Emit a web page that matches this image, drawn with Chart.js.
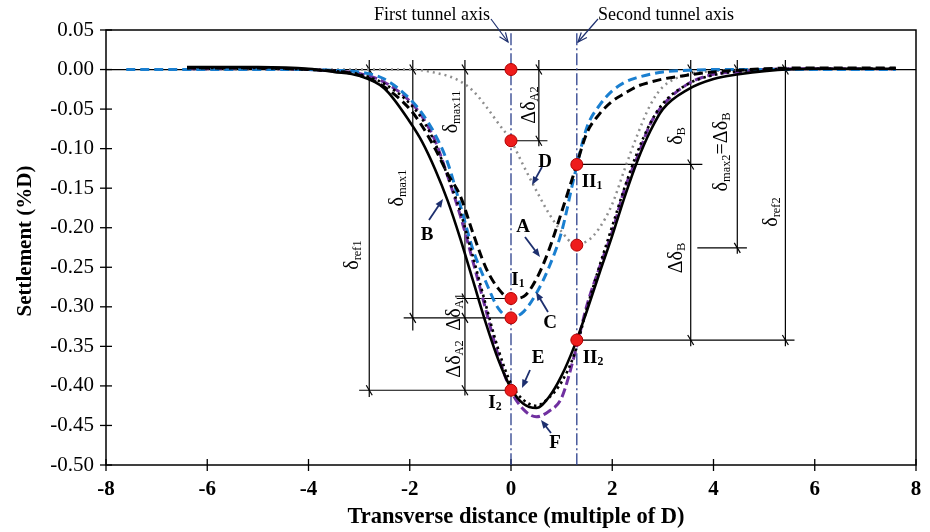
<!DOCTYPE html>
<html>
<head>
<meta charset="utf-8">
<script src="https://cdn.jsdelivr.net/npm/chart.js@4.4.1/dist/chart.umd.min.js"></script>
<style>
    html, body { margin: 0; padding: 0; background: #fff; }
</style>
</head>
<body>
<canvas id="settlementChart" width="930" height="532"></canvas>
<script>
// transverse positions (multiple of D) shared by all curves
const xGrid = [-7.6, -6.4, -5, -4, -3.5, -3, -2.5, -2, -1.75, -1.5, -1.25, -1, -0.75, -0.5, -0.25, 0,
    0.25, 0.5, 0.75, 1, 1.25, 1.5, 1.75, 2, 2.25, 2.5, 2.75, 3, 3.5, 4, 4.5, 5, 6, 7.6];

// settlement (%D) of each curve
const curveA = [null, 0.002, 0.002, 0, -0.002, -0.007, -0.022, -0.05, -0.072, -0.1, -0.132, -0.16, -0.207, -0.25, -0.277,
    -0.29, -0.287, -0.265, -0.228, -0.18, -0.13, -0.08, -0.056, -0.04, -0.03, -0.021, -0.016, -0.012, -0.007, -0.003, -0.001, 0.001, 0.002, 0.002];
const curveB = [null, 0.003, 0.003, 0.001, -0.003, -0.008, -0.024, -0.066, -0.092, -0.126, -0.166, -0.214, -0.267, -0.32, -0.367,
    -0.403, -0.423, -0.428, -0.414, -0.387, -0.35, -0.305, -0.257, -0.21, -0.16, -0.115, -0.078, -0.05, -0.025, -0.012, -0.006, -0.002, 0.001, 0.001];
const curveC = [0, 0, 0, 0, -0.001, -0.003, -0.012, -0.037, -0.056, -0.082, -0.118, -0.172, -0.228, -0.268, -0.302,
    -0.314, -0.306, -0.283, -0.25, -0.205, -0.135, -0.073, -0.045, -0.027, -0.016, -0.01, -0.006, -0.003, -0.001, 0, 0, 0, 0, 0];
const curveD = [null, 0, 0, 0, 0, 0, 0, 0, -0.001, -0.004, -0.008, -0.015, -0.027, -0.046, -0.068,
    -0.09, -0.122, -0.153, -0.182, -0.205, -0.22, -0.217, -0.2, -0.17, -0.125, -0.082, -0.045, -0.022, -0.006, -0.002, 0, 0, 0, 0];
const curveE = [null, 0.002, 0.002, 0, -0.002, -0.006, -0.018, -0.043, -0.063, -0.093, -0.135, -0.18, -0.237, -0.297, -0.354,
    -0.397, -0.418, -0.425, -0.415, -0.395, -0.36, -0.302, -0.248, -0.198, -0.148, -0.104, -0.068, -0.043, -0.018, -0.007, -0.002, 0, 0.001, 0.001];
const curveF = [null, 0.001, 0.001, 0, -0.002, -0.005, -0.016, -0.04, -0.06, -0.09, -0.135, -0.185, -0.243, -0.303, -0.362,
    -0.406, -0.43, -0.439, -0.432, -0.415, -0.362, -0.298, -0.25, -0.205, -0.15, -0.11, -0.069, -0.045, -0.018, -0.006, -0.003, 0, 0.001, 0.001];

// red marker points (I1, I2, II1, II2 ...)
const markerX = [0, 0, 0, 0, 0, 1.3, 1.3, 1.3];
const markerY = [0, -0.09, -0.2895, -0.314, -0.4055, -0.12, -0.222, -0.342];

// tunnel axes
const tunnelAxisX = [0, 1.3];

// dimension lines: [x, yTop, yBottom] and [y, xLeft, xRight]
const dimVertical = [
    [-2.8, 0.012, -0.414],
    [-1.94, 0.012, -0.33],
    [-0.91, 0.012, -0.412],
    [0.55, 0.012, -0.097],
    [3.55, 0.012, -0.35],
    [4.47, 0.012, -0.233],
    [5.42, 0.012, -0.35]
];
const dimHorizontal = [
    [-0.4055, -3.0, 0],
    [-0.314, -2.12, 0],
    [-0.2895, -1.07, 0],
    [-0.09, 0, 0.72],
    [-0.12, 1.3, 3.78],
    [-0.342, 1.3, 5.6],
    [-0.2255, 3.68, 4.66]
];
const dimTicks = [[-2.8, 0], [-1.94, 0], [-0.91, 0], [0.55, 0], [3.55, 0], [4.47, 0], [5.42, 0],
    [-2.8, -0.4055], [-0.91, -0.4055], [-1.94, -0.314], [-0.91, -0.314], [-0.91, -0.2895],
    [0.55, -0.09], [3.55, -0.12], [3.55, -0.342], [5.42, -0.342], [4.47, -0.2255]];

const SERIF = "'Liberation Serif', 'Times New Roman', serif";

function toPoints(ys) {
    let pts = [];
    for (let i = 0; i < xGrid.length; i++) {
        if (ys[i] !== null) pts.push({ x: xGrid[i], y: ys[i] });
    }
    return pts;
}

function curve(label, ys, color, width, dash) {
    return {
        label: label,
        data: toPoints(ys),
        showLine: true,
        borderColor: color,
        borderWidth: width,
        borderDash: dash,
        pointRadius: 0,
        cubicInterpolationMode: 'monotone',
        fill: false
    };
}

// draws text made of normal and subscript parts, centred on x,y
function drawRich(ctx, parts, x, y, size, weight) {
    let widths = parts.map(p => {
        ctx.font = weight + ' ' + (p[1] ? size * 0.62 : size) + 'px ' + SERIF;
        return ctx.measureText(p[0]).width;
    });
    let total = widths.reduce((a, b) => a + b, 0);
    let cx = x - total / 2;
    ctx.textAlign = 'left';
    ctx.textBaseline = 'middle';
    for (let i = 0; i < parts.length; i++) {
        ctx.font = weight + ' ' + (parts[i][1] ? size * 0.62 : size) + 'px ' + SERIF;
        ctx.fillText(parts[i][0], cx, parts[i][1] ? y + size * 0.22 : y);
        cx += widths[i];
    }
}

function drawRotated(ctx, parts, x, y, size) {
    ctx.save();
    ctx.translate(x, y);
    ctx.rotate(-Math.PI / 2);
    drawRich(ctx, parts, 0, 0, size, 'normal');
    ctx.restore();
}

function arrow(ctx, x1, y1, x2, y2, open) {
    let ang = Math.atan2(y2 - y1, x2 - x1);
    let len = open ? 10 : 9;
    ctx.beginPath();
    ctx.moveTo(x1, y1);
    ctx.lineTo(open ? x2 : x2 - Math.cos(ang) * 5, open ? y2 : y2 - Math.sin(ang) * 5);
    ctx.stroke();
    ctx.beginPath();
    ctx.moveTo(x2 - len * Math.cos(ang - 0.38), y2 - len * Math.sin(ang - 0.38));
    ctx.lineTo(x2, y2);
    ctx.lineTo(x2 - len * Math.cos(ang + 0.38), y2 - len * Math.sin(ang + 0.38));
    if (open) {
        ctx.stroke();
    } else {
        ctx.closePath();
        ctx.fill();
    }
}

const figureExtras = {
    id: 'figureExtras',
    beforeDatasetsDraw(chart) {
        const ctx = chart.ctx;
        const xs = chart.scales.x;
        const ys = chart.scales.y;
        ctx.save();
        ctx.strokeStyle = '#000';
        ctx.lineWidth = 1.5;
        // frame
        ctx.strokeRect(xs.left, ys.top, xs.right - xs.left, ys.bottom - ys.top);
        // zero line
        ctx.lineWidth = 1.3;
        ctx.beginPath();
        ctx.moveTo(xs.left, ys.getPixelForValue(0));
        ctx.lineTo(xs.right, ys.getPixelForValue(0));
        ctx.stroke();
        // axis cross ticks
        ys.ticks.forEach(t => {
            let py = ys.getPixelForValue(t.value);
            ctx.beginPath();
            ctx.moveTo(xs.left - 6, py);
            ctx.lineTo(xs.left + 6, py);
            ctx.stroke();
        });
        xs.ticks.forEach(t => {
            let px = xs.getPixelForValue(t.value);
            ctx.beginPath();
            ctx.moveTo(px, ys.bottom - 6);
            ctx.lineTo(px, ys.bottom + 6);
            ctx.stroke();
        });
        // dimension lines
        ctx.lineWidth = 1.2;
        dimVertical.forEach(d => {
            let px = xs.getPixelForValue(d[0]);
            ctx.beginPath();
            ctx.moveTo(px, ys.getPixelForValue(d[1]));
            ctx.lineTo(px, ys.getPixelForValue(d[2]));
            ctx.stroke();
        });
        dimHorizontal.forEach(d => {
            let py = ys.getPixelForValue(d[0]);
            ctx.beginPath();
            ctx.moveTo(xs.getPixelForValue(d[1]), py);
            ctx.lineTo(xs.getPixelForValue(d[2]), py);
            ctx.stroke();
        });
        dimTicks.forEach(d => {
            let px = xs.getPixelForValue(d[0]);
            let py = ys.getPixelForValue(d[1]);
            ctx.beginPath();
            ctx.moveTo(px - 3, py - 5);
            ctx.lineTo(px + 3, py + 5);
            ctx.stroke();
        });
        ctx.restore();
    },
    afterDraw(chart) {
        const ctx = chart.ctx;
        ctx.save();
        ctx.fillStyle = '#000';

        // axis titles
        ctx.save();
        ctx.translate(26, 241);
        ctx.rotate(-Math.PI / 2);
        ctx.font = 'bold 21px ' + SERIF;
        ctx.textAlign = 'center';
        ctx.textBaseline = 'middle';
        ctx.fillText('Settlement (%D)', 0, 0);
        ctx.restore();
        ctx.font = 'bold 22.5px ' + SERIF;
        ctx.textAlign = 'center';
        ctx.textBaseline = 'middle';
        ctx.fillText('Transverse distance (multiple of D)', 516, 517);

        // tunnel axis captions
        ctx.font = '18px ' + SERIF;
        ctx.fillText('First tunnel axis', 432, 15);
        ctx.fillText('Second tunnel axis', 666, 15);
        ctx.strokeStyle = '#1d2f6e';
        ctx.fillStyle = '#1d2f6e';
        ctx.lineWidth = 1.2;
        arrow(ctx, 491, 19, 508, 42, true);
        arrow(ctx, 598, 19, 578, 42, true);

        // curve label arrows
        ctx.lineWidth = 1.8;
        arrow(ctx, 525, 237, 540, 257, false);
        arrow(ctx, 429, 220, 443, 199, false);
        arrow(ctx, 548, 312, 536, 292, false);
        arrow(ctx, 542, 167, 532, 185, false);
        arrow(ctx, 530, 370, 522, 388, false);
        arrow(ctx, 551, 433, 541, 420, false);

        // curve and point labels
        ctx.fillStyle = '#000';
        drawRich(ctx, [['A', 0]], 523, 227, 19, 'bold');
        drawRich(ctx, [['B', 0]], 427, 235, 19, 'bold');
        drawRich(ctx, [['C', 0]], 550, 323, 19, 'bold');
        drawRich(ctx, [['D', 0]], 545, 162, 19, 'bold');
        drawRich(ctx, [['E', 0]], 538, 358, 19, 'bold');
        drawRich(ctx, [['F', 0]], 555, 443, 19, 'bold');
        drawRich(ctx, [['I', 0], ['1', 1]], 518, 280, 19, 'bold');
        drawRich(ctx, [['I', 0], ['2', 1]], 495, 403, 19, 'bold');
        drawRich(ctx, [['II', 0], ['1', 1]], 592, 182, 19, 'bold');
        drawRich(ctx, [['II', 0], ['2', 1]], 593, 358, 19, 'bold');

        // dimension labels
        drawRotated(ctx, [['δ', 0], ['ref1', 1]], 353, 255, 20);
        drawRotated(ctx, [['δ', 0], ['max1', 1]], 398, 188, 20);
        drawRotated(ctx, [['δ', 0], ['max11', 1]], 452, 112, 20);
        drawRotated(ctx, [['Δδ', 0], ['A2', 1]], 530, 105, 20);
        drawRotated(ctx, [['δ', 0], ['B', 1]], 677, 136, 20);
        drawRotated(ctx, [['δ', 0], ['max2', 1], ['=Δδ', 0], ['B', 1]], 722, 152, 20);
        drawRotated(ctx, [['δ', 0], ['ref2', 1]], 772, 212, 20);
        drawRotated(ctx, [['Δδ', 0], ['B', 1]], 677, 258, 20);
        drawRotated(ctx, [['Δδ', 0], ['A1', 1]], 455, 312, 20);
        drawRotated(ctx, [['Δδ', 0], ['A2', 1]], 455, 359, 20);
        ctx.restore();
    }
};

function initSettlementChart() {
    let markers = [];
    for (let i = 0; i < markerX.length; i++) {
        markers.push({ x: markerX[i], y: markerY[i] });
    }

    let datasets = [
        {
            label: 'points',
            data: markers,
            showLine: false,
            pointRadius: 6,
            pointBackgroundColor: '#ee1c1c',
            pointBorderColor: '#b00000',
            pointBorderWidth: 1
        },
        curve('B', curveB, '#000000', 2.6, []),
        curve('E', curveE, '#000000', 2.6, [2.5, 3.5]),
        curve('A', curveA, '#000000', 3, [9, 5]),
        curve('C', curveC, '#1a7fd0', 3, [9, 5]),
        curve('F', curveF, '#7030a0', 3, [9, 4]),
        curve('D', curveD, '#8e8e8e', 2.5, [2, 4])
    ];

    tunnelAxisX.forEach(ax => {
        datasets.push({
            label: 'axis ' + ax,
            data: [{ x: ax, y: 0.046 }, { x: ax, y: -0.5 }],
            showLine: true,
            borderColor: '#2b3f8c',
            borderWidth: 1.3,
            borderDash: [12, 3, 2, 3],
            pointRadius: 0
        });
    });

    new Chart(document.getElementById('settlementChart'), {
        type: 'scatter',
        data: { datasets: datasets },
        options: {
            responsive: false,
            animation: false,
            layout: { padding: { top: 30, right: 14, left: 0, bottom: 0 } },
            plugins: {
                legend: { display: false },
                tooltip: { enabled: false }
            },
            scales: {
                x: {
                    type: 'linear',
                    min: -8,
                    max: 8,
                    grid: { display: false, drawTicks: false },
                    border: { display: false },
                    ticks: {
                        stepSize: 2,
                        padding: 12,
                        color: '#000',
                        font: { family: SERIF, size: 21, weight: 'bold' }
                    },
                    afterFit(scale) {
                        scale.height = 67;
                        scale.paddingLeft = 0;
                        scale.paddingRight = 0;
                    }
                },
                y: {
                    type: 'linear',
                    min: -0.5,
                    max: 0.05,
                    grid: { display: false, drawTicks: false },
                    border: { display: false },
                    ticks: {
                        stepSize: 0.05,
                        padding: 12,
                        color: '#000',
                        font: { family: SERIF, size: 21 },
                        callback: function (v) {
                            if (Math.abs(v) < 1e-9) return '0.00';
                            return v.toFixed(2);
                        }
                    },
                    afterFit(scale) {
                        scale.width = 106;
                        scale.paddingTop = 0;
                        scale.paddingBottom = 0;
                    }
                }
            }
        },
        plugins: [figureExtras]
    });
}

window.addEventListener('load', initSettlementChart);
</script>
</body>
</html>
